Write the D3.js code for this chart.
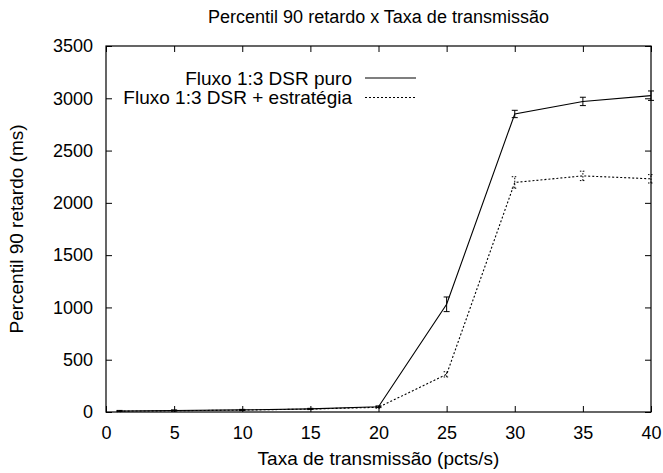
<!DOCTYPE html>
<html>
<head>
<meta charset="utf-8">
<script src="https://cdn.jsdelivr.net/npm/d3@7"></script>
<style>
  html, body { margin: 0; padding: 0; background: #fff; }
  svg text { font-family: "Liberation Sans", Arial, Helvetica, sans-serif; fill: #000; }
</style>
</head>
<body>
<svg id="chart" width="663" height="473"></svg>
<script>
// Transmission rate (pcts/s)
const rates = [1, 5, 10, 15, 20, 25, 30, 35, 40];
// 90th percentile delay (ms) and error half-widths
const puroValues = [10, 15, 20, 30, 50, 1030, 2850, 2970, 3025];
const puroErrors = [5, 5, 5, 5, 8, 70, 35, 40, 45];
const estrategiaValues = [8, 12, 18, 28, 45, 360, 2195, 2258, 2230];
const estrategiaErrors = [5, 5, 5, 5, 8, 25, 55, 45, 40];
const xTicks = [0, 5, 10, 15, 20, 25, 30, 35, 40];
const yTicks = [0, 500, 1000, 1500, 2000, 2500, 3000, 3500];
const seriesNames = ["Fluxo 1:3 DSR puro", "Fluxo 1:3 DSR + estratégia"];

const tickFont = 18, labelFont = 19, titleFont = 18;
const svg = d3.select("#chart");
const plot = { left: 106, right: 651, top: 46, bottom: 412 };

const x = d3.scaleLinear().domain([0, 40]).range([plot.left, plot.right]);
const y = d3.scaleLinear().domain([0, 3500]).range([plot.bottom, plot.top]);

const series = [
  { name: seriesNames[0], values: puroValues, errors: puroErrors, dash: null },
  { name: seriesNames[1], values: estrategiaValues, errors: estrategiaErrors, dash: "2,2" }
];

const tickLen = 6;

// Axes: labels on bottom/left, inward ticks mirrored on all sides
const gx = svg.append("g").attr("transform", `translate(0,${plot.bottom})`)
  .call(d3.axisBottom(x).tickValues(xTicks).tickFormat(d3.format("d")).tickSize(-tickLen).tickPadding(14));
const gy = svg.append("g").attr("transform", `translate(${plot.left},0)`)
  .call(d3.axisLeft(y).tickValues(yTicks).tickFormat(d3.format("d")).tickSize(-tickLen).tickPadding(13));
const gt = svg.append("g").attr("transform", `translate(0,${plot.top})`)
  .call(d3.axisTop(x).tickValues(xTicks).tickFormat("").tickSize(-tickLen));
const gr = svg.append("g").attr("transform", `translate(${plot.right},0)`)
  .call(d3.axisRight(y).tickValues(yTicks).tickFormat("").tickSize(-tickLen));

[gx, gy, gt, gr].forEach(g => {
  g.select(".domain").remove();
  g.selectAll(".tick line").attr("stroke", "#000").attr("stroke-width", 1);
  g.selectAll("text").attr("font-size", tickFont).attr("fill", "#000")
    .style("font-family", '"Liberation Sans", Arial, sans-serif');
});

// Plot border
svg.append("rect")
  .attr("x", plot.left).attr("y", plot.top)
  .attr("width", plot.right - plot.left).attr("height", plot.bottom - plot.top)
  .attr("fill", "none").attr("stroke", "#000").attr("stroke-width", 1.2);

const line = d3.line().x((d, i) => x(rates[i])).y(d => y(d));

series.forEach(s => {
  const g = svg.append("g");
  g.append("path")
    .attr("d", line(s.values))
    .attr("fill", "none")
    .attr("stroke", "#000")
    .attr("stroke-width", 1.1)
    .attr("stroke-dasharray", s.dash);

  // Error bars
  s.values.forEach((v, i) => {
    const cx = x(rates[i]);
    const y0 = y(v - s.errors[i]), y1 = y(v + s.errors[i]);
    const eb = g.append("g")
      .attr("stroke", "#000")
      .attr("stroke-width", 1)
      .attr("stroke-dasharray", s.dash ? "1.5,1.5" : null);
    eb.append("line").attr("x1", cx).attr("x2", cx).attr("y1", y0).attr("y2", y1);
    eb.append("line").attr("x1", cx - 3).attr("x2", cx + 3).attr("y1", y0).attr("y2", y0);
    eb.append("line").attr("x1", cx - 3).attr("x2", cx + 3).attr("y1", y1).attr("y2", y1);
  });
});

// Legend
const legendRows = [78, 97.5];
series.forEach((s, i) => {
  svg.append("text")
    .attr("x", 352).attr("y", legendRows[i])
    .attr("dy", "0.35em")
    .attr("text-anchor", "end")
    .attr("font-size", labelFont)
    .text(s.name);
  svg.append("line")
    .attr("x1", 365).attr("x2", 416)
    .attr("y1", legendRows[i]).attr("y2", legendRows[i])
    .attr("stroke", "#000").attr("stroke-width", 1.1)
    .attr("stroke-dasharray", s.dash);
});

// Titles
svg.append("text")
  .attr("x", (plot.left + plot.right) / 2).attr("y", 23)
  .attr("text-anchor", "middle").attr("font-size", titleFont)
  .text("Percentil 90 retardo x Taxa de transmissão");

svg.append("text")
  .attr("x", (plot.left + plot.right) / 2).attr("y", 465)
  .attr("text-anchor", "middle").attr("font-size", labelFont)
  .text("Taxa de transmissão (pcts/s)");

svg.append("text")
  .attr("transform", `translate(23,${(plot.top + plot.bottom) / 2}) rotate(-90)`)
  .attr("text-anchor", "middle").attr("font-size", labelFont)
  .text("Percentil 90 retardo (ms)");
</script>
</body>
</html>
